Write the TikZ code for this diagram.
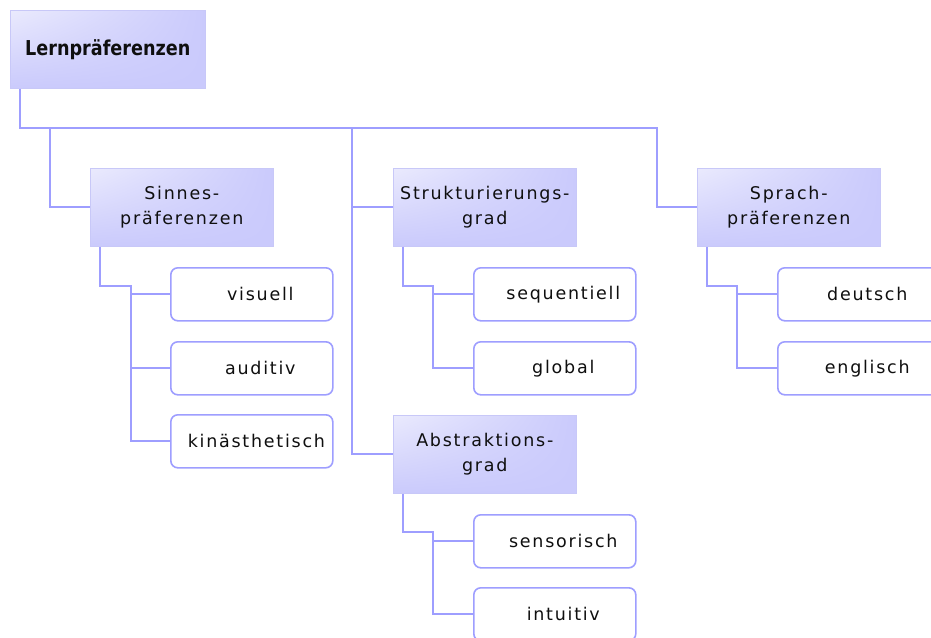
\documentclass[tikz,border=0pt]{standalone}
\usepackage{fontspec}
\usetikzlibrary{shadings}
\setmainfont{DejaVu Sans}
\newfontfamily\labelfont[LetterSpace=10]{DejaVu Sans}
\newfontfamily\rootfont[FakeStretch=0.86]{DejaVu Sans}

\definecolor{linkblue}{RGB}{158,158,255}
\definecolor{boxlav}{RGB}{202,202,252}
\definecolor{boxhi}{RGB}{234,234,253}
\definecolor{boxedge}{RGB}{200,200,248}
\definecolor{textdark}{RGB}{15,15,15}

% content of a leaf box: a left inset, then the label
\newcommand\boxlabel[2][c]{\hspace*{17pt}\makebox[145pt][#1]{#2}}

\begin{document}
\begin{tikzpicture}[x=1pt,y=-1pt,
  link/.style={draw=linkblue, line width=2pt},
  rootbox/.style={rectangle, anchor=north west, inner sep=0pt,
    minimum width=195pt, minimum height=78pt,
    draw=boxedge, line width=0.6pt,
    upper left=boxhi, upper right=boxlav, lower left=boxlav, lower right=boxlav,
    text=textdark, font=\rootfont\bfseries\fontsize{20.5}{24}\selectfont},
  groupbox/.style={rectangle, anchor=north west, inner sep=0pt,
    minimum width=183pt, minimum height=78pt,
    draw=boxedge, line width=0.6pt,
    upper left=boxhi, upper right=boxlav, lower left=boxlav, lower right=boxlav,
    align=center, text=textdark,
    font=\labelfont\fontsize{17.5}{24.5}\selectfont},
  itembox/.style={rectangle, rounded corners=7pt, anchor=north west,
    inner xsep=0pt, inner ysep=0pt,
    minimum width=162pt, minimum height=53pt,
    draw=linkblue, line width=1.6pt, fill=white, text=textdark,
    font=\labelfont\fontsize{17.5}{20}\selectfont}
]
\path[use as bounding box] (0,0) rectangle (931,637);
\clip (0,0) rectangle (931,637);

% root and the four groups
\node[rootbox]  (root) at (10,10)   {Lernpräferenzen};
\node[groupbox] (sin)  at (90,168)  {Sinnes-\\präferenzen};
\node[groupbox] (str)  at (393,168) {Strukturierungs-\\grad};
\node[groupbox] (spr)  at (697,168) {Sprach-\\präferenzen};
\node[groupbox] (abs)  at (393,415) {Abstraktions-\\grad};

% leaves
\node[itembox] (vis) at (170,267) {\boxlabel{visuell}};
\node[itembox] (aud) at (170,341) {\boxlabel{auditiv}};
\node[itembox] (kin) at (170,414) {\boxlabel[l]{kinästhetisch}};
\node[itembox] (seq) at (473,267) {\boxlabel{sequentiell}};
\node[itembox] (glo) at (473,341) {\boxlabel{global}};
\node[itembox] (deu) at (777,267) {\boxlabel{deutsch}};
\node[itembox] (eng) at (777,341) {\boxlabel{englisch}};
\node[itembox] (sen) at (473,514) {\boxlabel{sensorisch}};
\node[itembox] (int) at (473,587) {\boxlabel{intuitiv}};

% trunk below the root
\coordinate (tA) at (50,128);
\coordinate (tB) at (352,128);
\coordinate (tC) at (657,128);
\draw[link] ([xshift=10pt]root.south west) |- (tC) |- (spr.west);
\draw[link] (tA) |- (sin.west);
\draw[link] (tB) |- (abs.west);
\draw[link] (tB |- str.west) -- (str.west);

% group to leaf connectors
\coordinate (sinJ) at (131,286);
\draw[link] ([xshift=10pt]sin.south west) |- (sinJ) |- (kin.west);
\draw[link] (sinJ |- vis.west) -- (vis.west);
\draw[link] (sinJ |- aud.west) -- (aud.west);

\coordinate (strJ) at (433,286);
\draw[link] ([xshift=10pt]str.south west) |- (strJ) |- (glo.west);
\draw[link] (strJ |- seq.west) -- (seq.west);

\coordinate (sprJ) at (737,286);
\draw[link] ([xshift=10pt]spr.south west) |- (sprJ) |- (eng.west);
\draw[link] (sprJ |- deu.west) -- (deu.west);

\coordinate (absJ) at (433,532);
\draw[link] ([xshift=10pt]abs.south west) |- (absJ) |- (int.west);
\draw[link] (absJ |- sen.west) -- (sen.west);
\end{tikzpicture}
\end{document}
